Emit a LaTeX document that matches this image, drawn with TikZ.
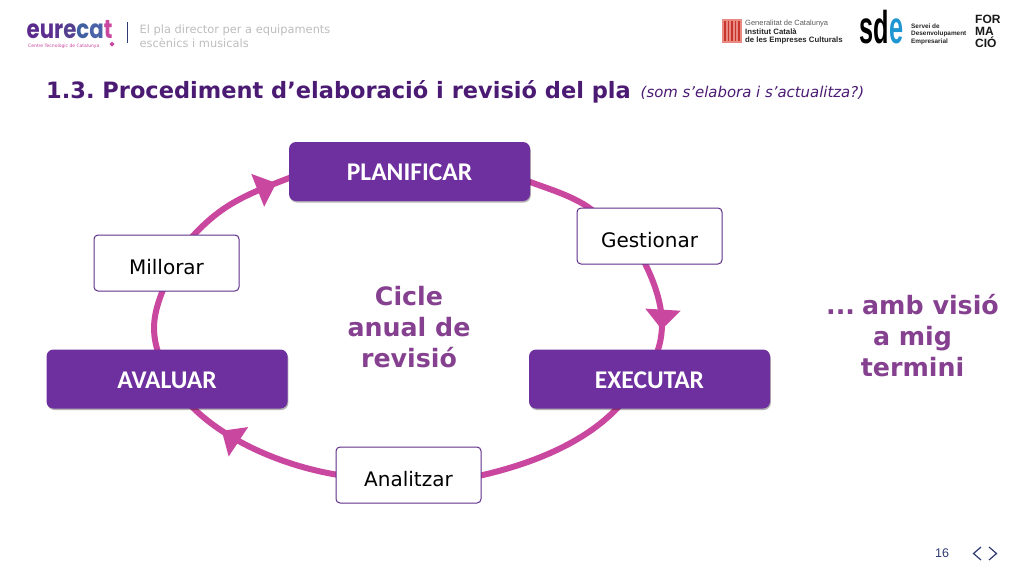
\documentclass[tikz,border=0pt]{standalone}
\usepackage{fontspec}
\setmainfont{DejaVu Sans}
\frenchspacing
\newfontfamily\carlito{Carlito}
\newfontfamily\libsans{Liberation Sans}
\newfontfamily\pop{Poppins}
\usetikzlibrary{arrows.meta,calc,shadows,backgrounds,decorations.markings}
\definecolor{boxpurple}{HTML}{6E2F9F}
\definecolor{titlepurple}{HTML}{4B1A73}
\definecolor{sidepurple}{HTML}{85408F}
\definecolor{ringpink}{HTML}{C9479F}
\definecolor{framepurple}{HTML}{5F2F8A}
\definecolor{greytext}{HTML}{BDBDBD}
\definecolor{navy}{HTML}{2F3A73}
\definecolor{flagbg}{HTML}{E98A80}
\definecolor{flagbar}{HTML}{C8352F}
\newcommand{\lowr}[2]{\raisebox{-#1pt}[0pt][0pt]{#2}}
\tikzset{
  mainbox/.style={draw=none,fill=boxpurple,rounded corners=7pt,minimum width=241pt,minimum height=59pt,inner sep=0pt,
    text=white,font=\carlito\bfseries\fontsize{25.5}{27}\selectfont,
    drop shadow={shadow xshift=.8pt,shadow yshift=-1.5pt,opacity=.3,fill=black}},
  subbox/.style={draw=framepurple,line width=1pt,fill=white,rounded corners=4pt,minimum width=145pt,minimum height=56pt,inner sep=0pt,
    text=black,font=\fontsize{20}{24}\selectfont},
  ring/.style={draw=ringpink,line width=6pt,
    preaction={draw=black,draw opacity=.12,transform canvas={xshift=.8pt,yshift=-1.2pt}}},
  arrowmark/.style={postaction={decorate,decoration={markings,mark=at position #1 with {\arrow{Triangle[width=34pt,length=20pt,fill=ringpink]}}}}},
  sidetext/.style={text=sidepurple,align=center,font=\bfseries\fontsize{25.3}{31}\selectfont,inner sep=0pt},
  logotext/.style={inner sep=0pt,anchor=west},
  chev/.style={draw=navy,line width=1.2pt,line join=miter}
}
\begin{document}
\begin{tikzpicture}[x=1pt,y=-1pt]
\useasboundingbox (0,0) rectangle (1024,576);
% nodes
\node[mainbox] (plan) at (409.5,171.5) {\lowr{8.5}{PLANIFICAR}};
\node[mainbox] (exec) at (649.5,379) {\lowr{9}{EXECUTAR}};
\node[mainbox] (aval) at (167,379) {\lowr{9}{AVALUAR}};
\node[subbox] (gest) at (649.5,236) {\lowr{11}{Gestionar}};
\node[subbox] (mill) at (166.5,263) {\lowr{11}{Millorar}};
\node[subbox] (anal) at (408.5,475) {\lowr{11}{Analitzar}};
% connectors
\begin{scope}[on background layer]
\draw[ring] ($(plan.east)+(-4,9)$) .. controls ($(plan.east)+(22,19)$) and ($(gest.north)+(-62,-8)$) .. ($(gest.north)+(-46,14)$);
\draw[ring,arrowmark=.76] ($(gest.south)+(-5,-2)$) .. controls ($(gest.south)+(10,28)$) and ($(gest.south)+(18,58)$) .. ($(exec.north)+(8,2)$);
\draw[ring] ($(exec.south)+(-30,-3)$) .. controls ($(exec.south)+(-62,32)$) and ($(anal.east)+(55,-12)$) .. ($(anal.east)+(-3,1)$);
\draw[ring,arrowmark=.76] ($(anal.west)+(3,0)$) .. controls ($(anal.west)+(-58,-10)$) and ($(aval.south)+(55,29)$) .. ($(aval.south)+(24,-3)$);
\draw[ring] ($(aval.north)+(-9,3)$) .. controls ($(aval.north)+(-16,-20)$) and ($(mill.south)+(-13,22)$) .. ($(mill.south)+(-3,-3)$);
\draw[ring,arrowmark=.86] ($(mill.north)+(25,3)$) .. controls ($(mill.north)+(55,-30)$) and ($(plan.west)+(-44,23.5)$) .. ($(plan.west)+(3,5.5)$);
\end{scope}
% central and side text
\node[sidetext] (cicle) at (409,327.5) {Cicle\\anual de\\revisió};
\node[sidetext] (visio) at (912.5,335.5) {...\hspace{.28em}amb visió\\a mig\\termini};
% title
\node[logotext,text=titlepurple,font=\bfseries\fontsize{22.5}{26}\selectfont] (title) at (46,92) {1.3. Procediment d’elaboració i revisió del pla};
\node[logotext,text=titlepurple,font=\itshape\fontsize{14.9}{18}\selectfont] (sub) at (640.5,93) {(som s’elabora i s’actualitza?)};
% header
\node[logotext,text=greytext,align=left,font=\fontsize{11.4}{13.5}\selectfont] (head) at (139.5,36) {El pla director per a equipaments\\escènics i musicals};
\fill[navy] (126.5,22) rectangle (128,43);
\node[logotext,font=\pop\bfseries\fontsize{26}{27}\selectfont] (eurecat) at (26.5,29.5)
  {\scalebox{.82}[1]{\textcolor[HTML]{5A2A8C}{e}\textcolor[HTML]{5B2E90}{u}\textcolor[HTML]{59358F}{r}\textcolor[HTML]{54408F}{e}\textcolor[HTML]{3F5FA0}{c}\textcolor[HTML]{4A62A8}{a}\textcolor[HTML]{C9479F}{t}}};
\node[logotext,text=ringpink,font=\fontsize{4.5}{5}\selectfont] (centre) at (28,46) {Centre Tecnològic de Catalunya};
\fill[ringpink] (112,41.5) -- (114.5,44) -- (112,46.5) -- (109.5,44) -- cycle;
% Generalitat
\fill[flagbg] (721.5,19) rectangle (742,43);
\foreach \xx in {724,727.5,731,734.5,738} {\fill[flagbar] (\xx,21) rectangle (\xx+1.8,41);}
\node[logotext,text=black!65,font=\libsans\fontsize{7.5}{8}\selectfont] (gen) at (745,23.5) {Generalitat de Catalunya};
\node[logotext,text=black!85,align=left,font=\libsans\bfseries\fontsize{7.8}{8}\selectfont] (inst) at (745,36) {Institut Català\\de les Empreses Culturals};
% sde
\node[logotext,font=\libsans\bfseries\fontsize{46}{47}\selectfont] (sde) at (859.5,27)
  {\scalebox{.55}[1]{\textcolor{black}{sd}\textcolor[HTML]{1E96D2}{e}}};
\node[logotext,text=black!85,align=left,font=\libsans\bfseries\fontsize{6.4}{7.4}\selectfont] (serv) at (911,34) {Servei de\\Desenvolupament\\Empresarial};
\node[logotext,text=black!90,align=left,font=\libsans\bfseries\fontsize{12}{12}\selectfont] (form) at (975,31.5) {FOR\\MA\\CIÓ};
% page number
\node[inner sep=0pt,text=navy,font=\libsans\fontsize{12.5}{14}\selectfont] (pg) at (942,553) {16};
\coordinate (c1a) at (981,547); \coordinate (c1b) at (973.5,553.5); \coordinate (c1c) at (981,560);
\coordinate (c2a) at (989,547); \coordinate (c2b) at (996.5,553.5); \coordinate (c2c) at (989,560);
\draw[chev] (c1a) -- (c1b) -- (c1c);
\draw[chev] (c2a) -- (c2b) -- (c2c);
\end{tikzpicture}
\end{document}
